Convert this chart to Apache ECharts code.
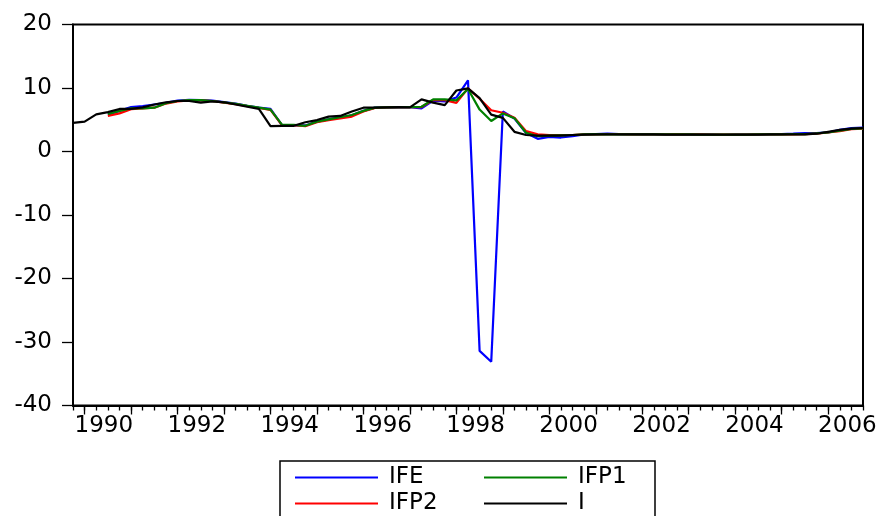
<!DOCTYPE html>
<html>
<head>
<meta charset="utf-8">
<script src="https://cdn.jsdelivr.net/npm/echarts@6/dist/echarts.min.js"></script>
<style>html,body{margin:0;padding:0;background:#fff;}#chart{width:885px;height:516px;}</style>
</head>
<body>
<div id="chart"></div>
<script>
// Quarterly observations, 1989Q4 .. 2006Q4
const startYear = 1989, startQuarter = 4, endYear = 2006, endQuarter = 4;
const quarters = [];
for (let y = startYear, q = startQuarter; y < endYear || (y === endYear && q <= endQuarter); ) {
  quarters.push(y + 'Q' + q);
  q++; if (q > 4) { q = 1; y++; }
}
const seriesNames = ['IFE', 'IFP1', 'IFP2', 'I'];
const yTicks = [-40, -30, -20, -10, 0, 10, 20];

const IFE = [null,null,null,5.8,6.4,7.0,7.15,7.4,7.65,8.0,
  8.15,8.1,8.0,7.8,7.55,7.2,6.9,6.7,4.1,4.1,
  4.1,4.7,5.05,5.35,5.7,6.4,6.9,6.95,7.0,7.0,
  6.8,8.0,7.9,8.5,11.2,-31.4,-33.1,6.3,5.2,2.9,
  2.0,2.3,2.2,2.4,2.7,2.75,2.8,2.75,2.75,2.7,
  2.7,2.7,2.7,2.75,2.7,2.65,2.6,2.65,2.65,2.7,
  2.7,2.75,2.8,2.9,2.9,3.0,3.4,3.7,3.75];
const IFP1 = [null,null,null,5.9,6.4,6.8,6.8,6.9,7.6,7.95,
  8.1,8.1,7.95,7.75,7.5,7.2,6.9,6.6,4.2,4.2,
  4.05,4.7,5.05,5.4,5.75,6.4,6.9,6.95,7.0,7.0,
  7.05,8.2,8.2,8.05,9.85,6.6,4.8,6.0,5.25,2.95,
  2.4,2.5,2.55,2.6,2.7,2.75,2.7,2.7,2.7,2.7,
  2.7,2.7,2.7,2.7,2.65,2.65,2.65,2.65,2.65,2.7,
  2.7,2.7,2.75,2.75,2.85,3.0,3.3,3.55,3.65];
const IFP2 = [null,null,null,5.6,6.0,6.65,6.8,6.9,7.55,7.9,
  8.05,8.05,7.95,7.7,7.45,7.15,6.85,6.55,4.1,4.15,
  4.0,4.6,4.95,5.2,5.5,6.3,6.85,6.95,7.0,7.0,
  7.0,8.1,8.1,7.65,9.95,8.3,6.5,6.1,5.3,3.2,
  2.7,2.6,2.6,2.6,2.7,2.7,2.75,2.75,2.7,2.7,
  2.7,2.7,2.75,2.7,2.7,2.65,2.65,2.65,2.65,2.7,
  2.7,2.7,2.7,2.75,2.8,3.0,3.2,3.5,3.6];
const I = [4.5,4.7,5.85,6.2,6.7,6.7,6.95,7.4,7.75,7.95,
  7.95,7.7,7.9,7.75,7.4,7.05,6.7,4.0,4.05,4.05,
  4.6,4.95,5.5,5.6,6.3,6.9,6.9,6.95,7.0,6.95,
  8.2,7.7,7.3,9.6,9.95,8.4,5.8,5.3,3.1,2.6,
  2.5,2.5,2.5,2.6,2.65,2.7,2.7,2.7,2.7,2.7,
  2.7,2.65,2.65,2.65,2.65,2.65,2.65,2.65,2.65,2.65,
  2.7,2.7,2.7,2.7,2.8,3.1,3.4,3.6,3.7];

const FONT = 'DejaVu Sans';
const chart = echarts.init(document.getElementById('chart'), null, {renderer: 'canvas'});
const isQ = (v, n) => String(v).slice(-1) === String(n);
const isEvenYearQ3 = v => isQ(v, 3) && parseInt(String(v).slice(0, 4), 10) % 2 === 0;

const legendBase = {orient: 'vertical', top: 466, padding: 0, itemGap: 3, itemWidth: 83, itemHeight: 14,
  itemStyle: {opacity: 0}, lineStyle: {width: 2},
  textStyle: {fontFamily: FONT, fontSize: 23, color: '#000', lineHeight: 20, padding: [0, 0, 0, 6]}};

chart.setOption({
  animation: false,
  backgroundColor: '#fff',
  grid: {left: 73, right: 22, top: 24.5, bottom: 110.5, show: true, borderColor: '#000', borderWidth: 2, backgroundColor: 'transparent'},
  xAxis: [
    {
      type: 'category', data: quarters, boundaryGap: false, position: 'bottom',
      axisLine: {show: true, onZero: false, lineStyle: {color: '#000', width: 2}},
      axisTick: {show: true, interval: 0, length: 5, lineStyle: {color: '#000', width: 1.3}},
      axisLabel: {show: false}, splitLine: {show: false}
    },
    {
      type: 'category', data: quarters, boundaryGap: false, position: 'bottom',
      axisLine: {show: false, onZero: false},
      axisTick: {show: true, interval: (i, v) => isQ(v, 1), length: 9, lineStyle: {color: '#000', width: 1.3}},
      axisLabel: {show: true, interval: (i, v) => isEvenYearQ3(v), formatter: v => String(v).slice(0, 4),
        color: '#000', fontFamily: FONT, fontSize: 23, margin: 9, padding: [0, 8, 0, 0], hideOverlap: false},
      splitLine: {show: false}
    }
  ],
  yAxis: {
    type: 'value', min: yTicks[0], max: yTicks[yTicks.length - 1], interval: 10,
    axisLine: {show: true, lineStyle: {color: '#000', width: 2}},
    axisTick: {show: true, length: 11, lineStyle: {color: '#000', width: 1.3}},
    axisLabel: {color: '#000', fontFamily: FONT, fontSize: 23, margin: 21},
    splitLine: {show: false}
  },
  legend: [
    Object.assign({data: ['IFE', 'IFP2'], left: 294}, legendBase),
    Object.assign({data: ['IFP1', 'I'], left: 483}, legendBase)
  ],
  graphic: [{type: 'rect', shape: {x: 280, y: 461, width: 375, height: 70}, style: {fill: 'none', stroke: '#000', lineWidth: 1.5}, silent: true}],
  series: [
    {name: 'IFE', type: 'line', data: IFE, symbol: 'none', color: '#0000ff', lineStyle: {width: 2.2}, z: 2},
    {name: 'IFP2', type: 'line', data: IFP2, symbol: 'none', color: '#ff0000', lineStyle: {width: 2.2}, z: 3},
    {name: 'IFP1', type: 'line', data: IFP1, symbol: 'none', color: '#008000', lineStyle: {width: 2.2}, z: 4},
    {name: 'I', type: 'line', data: I, symbol: 'none', color: '#000000', lineStyle: {width: 2.2}, z: 5}
  ]
});
</script>
</body>
</html>
